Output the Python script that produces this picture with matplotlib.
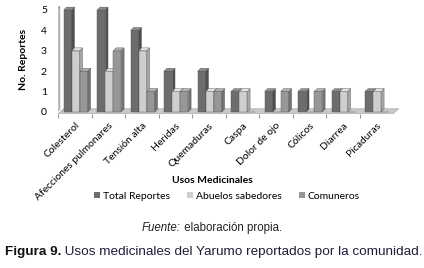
import numpy as np
import matplotlib
matplotlib.use('Agg')
import matplotlib.pyplot as plt
from matplotlib.patches import Polygon, Patch

categories = ['Colesterol', 'Afecciones pulmonares', 'Tensión alta', 'Heridas',
              'Quemaduras', 'Caspa', 'Dolor de ojo', 'Cólicos', 'Diarrea', 'Picaduras']
total_reportes = [5, 5, 4, 2, 2, 1, 1, 1, 1, 1]
abuelos_sabedores = [3, 2, 3, 1, 1, 1, 0, 0, 1, 1]
comuneros = [2, 3, 1, 1, 1, 0, 1, 1, 0, 0]
series_names = ['Total Reportes', 'Abuelos sabedores', 'Comuneros']

# front / side / top shades for the fake 3d look
shades = [('#6d6d6d', '#4f4f4f', '#8c8c8c'),
          ('#cecece', '#a8a8a8', '#e2e2e2'),
          ('#979797', '#747474', '#b0b0b0')]

font_chart = ['Lato', 'DejaVu Sans']
font_caption = ['Liberation Sans', 'DejaVu Sans']


def text_run(fig, x, y, pieces, **kw):
    """Write several text pieces one after another on one line."""
    renderer = fig.canvas.get_renderer()
    inv = fig.transFigure.inverted()
    for s, extra in pieces:
        t = fig.text(x, y, s, ha='left', va='center', **kw, **extra)
        bb = t.get_window_extent(renderer)
        x = inv.transform((bb.x1, bb.y0))[0]


fig = plt.figure(figsize=(4.24, 2.68), dpi=100)
ax = fig.add_axes([0.137, 0.575, 0.806, 0.403])

x = np.arange(len(categories))
width = 0.24
offsets = [-0.21, 0.03, 0.27]
dx, dy = 0.08, 0.14

# floor and side wall
ax.add_patch(Polygon([(-0.5, -0.1), (9.5, -0.1), (9.5 + 2 * dx, 0.15), (-0.5 + 2 * dx, 0.15)],
                     closed=True, facecolor='#c9c9c9', edgecolor='#b0b0b0', lw=0.6, zorder=1))
ax.add_patch(Polygon([(-0.58, -0.1), (-0.45, 0.15), (-0.45, 5.2), (-0.58, 5.0)],
                     closed=True, facecolor='#c4c4c4', edgecolor='#9a9a9a', lw=0.6, zorder=1))

series = [total_reportes, abuelos_sabedores, comuneros]
for s, vals in enumerate(series):
    front, side, top = shades[s]
    xs = x + offsets[s]
    ax.bar(xs, vals, width=width, color=front, edgecolor='#555555', linewidth=0.3, zorder=3 + s)
    for xi, v in zip(xs, vals):
        if v <= 0:
            continue
        r = xi + width / 2
        l = xi - width / 2
        ax.add_patch(Polygon([(r, 0), (r + dx, dy), (r + dx, v + dy), (r, v)],
                             closed=True, facecolor=side, edgecolor='#555555', lw=0.3, zorder=3 + s))
        ax.add_patch(Polygon([(l, v), (r, v), (r + dx, v + dy), (l + dx, v + dy)],
                             closed=True, facecolor=top, edgecolor='#555555', lw=0.3, zorder=3 + s))

ax.set_xlim(-0.5, 9.7)
ax.set_ylim(-0.1, 5.2)
ax.set_yticks(range(0, 6))
ax.set_yticklabels([str(i) for i in range(0, 6)], fontsize=7.5, family=font_chart)
ax.set_xticks(x - 0.5, minor=False)
ax.set_xticklabels([])
ax.set_xticks(x, minor=True)
ax.set_xticklabels(categories, minor=True, rotation=45, ha='right', rotation_mode='anchor',
                   fontsize=7.5, family=font_chart)
ax.tick_params(axis='x', which='minor', length=0, pad=5)
ax.tick_params(axis='x', which='major', length=3, color='#999999', direction='out')
ax.tick_params(axis='y', length=0, pad=8)
for sp in ax.spines.values():
    sp.set_visible(False)
ax.set_facecolor('none')

ax.set_ylabel('No. Reportes', fontsize=7.5, fontweight='bold', family=font_chart, labelpad=9)

fig.text(0.5, 0.328, 'Usos Medicinales', ha='center', va='center', fontsize=7.5,
         fontweight='bold', family=font_chart)

handles = [Patch(facecolor=shades[i][0], edgecolor='none') for i in range(3)]
fig.legend(handles, series_names, loc='center', bbox_to_anchor=(0.535, 0.268), ncol=3,
           frameon=False, prop={'family': font_chart, 'size': 7.5}, handlelength=0.6,
           handleheight=0.6, handletextpad=0.3, columnspacing=1.6)

text_run(fig, 0.335, 0.149,
         [('Fuente:', {'style': 'italic'}), (' elaboración propia.', {})],
         fontsize=8.3, family=font_caption, color='#222222')

text_run(fig, 0.012, 0.06,
         [('Figura 9.', {'fontweight': 'bold', 'color': '#111111'}),
          (' Usos medicinales del Yarumo reportados por la comunidad.', {'color': '#221a3a'})],
         fontsize=9.7, family=font_caption)

fig.savefig('out.png', dpi=100)
